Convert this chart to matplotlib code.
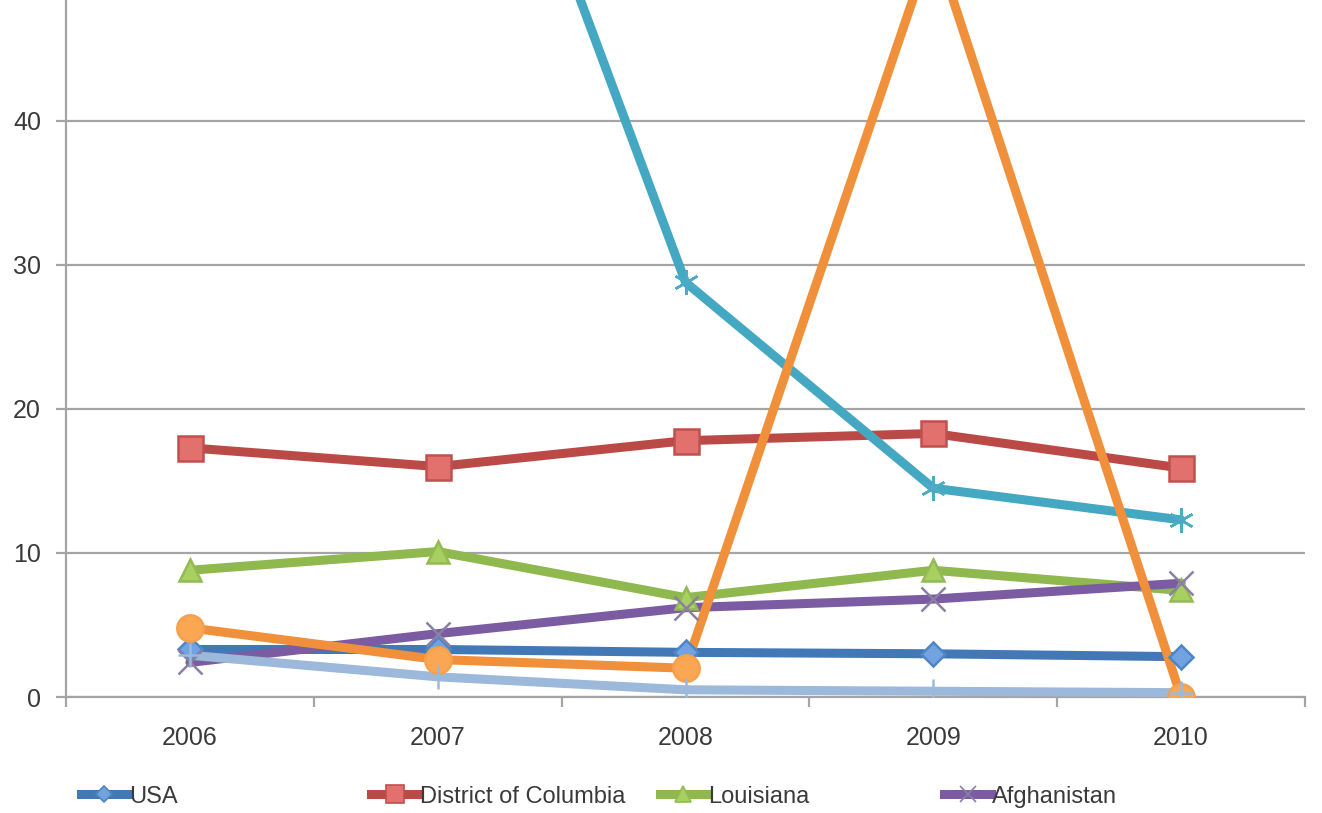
import matplotlib
matplotlib.use('Agg')
import matplotlib.pyplot as plt
from matplotlib import font_manager
from matplotlib.lines import Line2D

# data
years = ['2006', '2007', '2008', '2009', '2010']
usa = [3.3, 3.3, 3.1, 3.0, 2.8]
dc = [17.3, 16.0, 17.8, 18.3, 15.9]
louisiana = [8.8, 10.1, 6.9, 8.8, 7.4]
afghanistan = [2.4, 4.4, 6.2, 6.8, 7.9]
series5 = [62.0, 75.0, 28.8, 14.5, 12.3]   # teal, runs off the top
series6 = [4.8, 2.6, 2.0, 52.6, 0.0]       # orange, peak off the top
series7 = [2.9, 1.4, 0.5, 0.4, 0.3]        # light blue
yticks = [0, 10, 20, 30, 40]

legend_names = ['USA', 'District of Columbia', 'Louisiana', 'Afghanistan']
legend_x = [0.061, 0.281, 0.499, 0.714]

# (values, line colour, marker, marker face, marker edge, marker size)
series = [
    (usa, '#4278B6', 'D', '#72A2E0', '#4F86C6', 12),
    (dc, '#BB4A47', 's', '#E2716E', '#C0504D', 18),
    (louisiana, '#8FB84E', '^', '#A8CF62', '#92BB52', 16),
    (afghanistan, '#7B5BA1', 'x', '#8A80A2', '#8A80A2', 17),
    (series5, '#44A8C2', (6, 2, 0), '#4BACC6', '#4BACC6', 18),
    (series6, '#F0903B', 'o', '#F9A752', '#F7A04A', 19),
    (series7, '#9CB8DA', '+', '#9CB8DA', '#9CB8DA', 17),
]

grey = '#A4A4A4'
txt = '#3A3A3A'

# a narrow face for the legend if one is installed
legend_prop = {'family': 'Liberation Sans', 'size': 17}
for f in font_manager.fontManager.ttflist:
    if f.name == 'Liberation Sans Narrow':
        legend_prop = {'family': 'Liberation Sans Narrow', 'size': 22}
        break

fig = plt.figure(figsize=(13.22, 8.13), dpi=100)
ax = fig.add_axes([66 / 1322, 1 - 697 / 813, (1305 - 66) / 1322, 697 / 813])

x = list(range(len(years)))
for vals, col, mk, fc, ec, ms in series:
    ax.plot(x, vals, color=col, lw=6.5, solid_capstyle='round', zorder=3)
for vals, col, mk, fc, ec, ms in series:
    ax.plot(x, vals, ls='none', marker=mk, ms=ms, mfc=fc, mec=ec, mew=1.8, zorder=4)

ax.set_xlim(-0.5, 4.5)
ax.set_ylim(0, 48.4)
ax.set_yticks(yticks)
ax.set_yticklabels([str(v) for v in yticks])
ax.set_xticks(x)
ax.set_xticklabels(years)
ax.set_xticks([i - 0.5 for i in range(len(years) + 1)], minor=True)

ax.yaxis.grid(True, color=grey, lw=1.6, zorder=1)
ax.set_axisbelow(True)
for s in ['top', 'right']:
    ax.spines[s].set_visible(False)
for s in ['left', 'bottom']:
    ax.spines[s].set_color(grey)
    ax.spines[s].set_linewidth(1.6)

ax.tick_params(axis='y', length=7, width=1.6, color=grey, pad=11,
               labelsize=18, labelcolor=txt)
ax.tick_params(axis='x', which='major', length=0, pad=21, labelsize=18, labelcolor=txt)
ax.tick_params(axis='x', which='minor', length=7, width=1.6, color=grey, direction='out')
for lab in ax.get_xticklabels() + ax.get_yticklabels():
    lab.set_fontfamily('Liberation Sans')

# legend: only the first row is visible in the crop
for i in range(4):
    vals, col, mk, fc, ec, ms = series[i]
    h = Line2D([], [], color=col, lw=6.5, marker=mk, ms=ms * 0.7, mfc=fc, mec=ec, mew=1.2)
    leg = fig.legend([h], [legend_names[i]], loc='center left', bbox_to_anchor=(legend_x[i], 0.02),
                     frameon=False, handlelength=2.0, handletextpad=0.05, borderpad=0,
                     borderaxespad=0, numpoints=1, prop=legend_prop)
    leg.get_texts()[0].set_color(txt)

plt.savefig('out.png', dpi=100)
